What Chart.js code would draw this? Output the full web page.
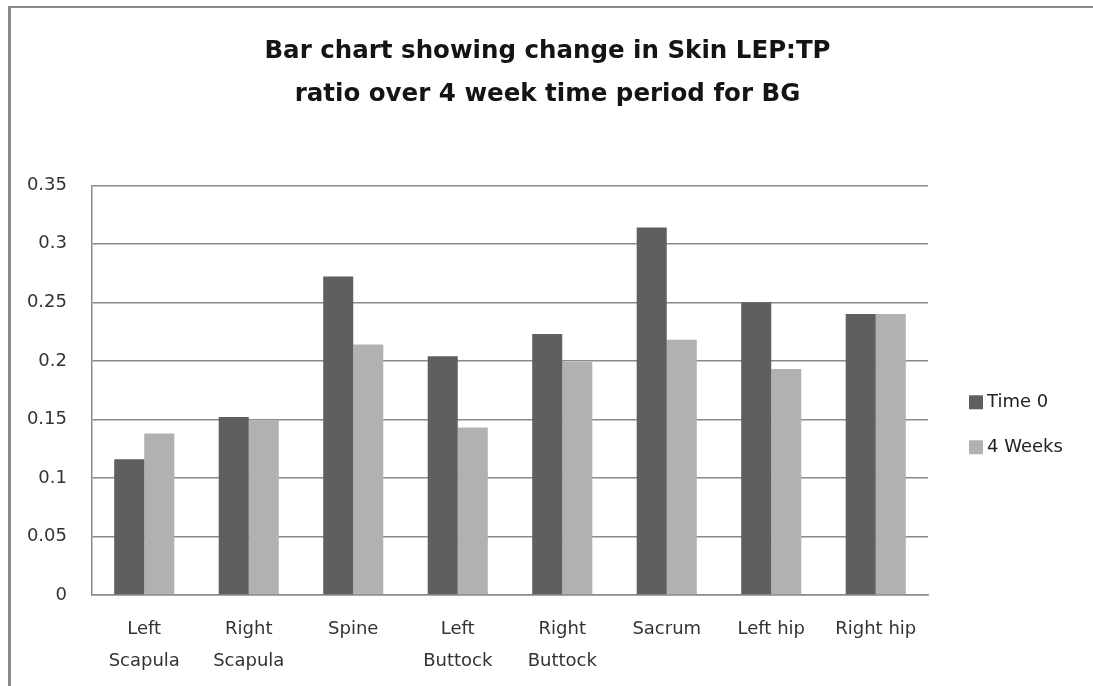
<!DOCTYPE html>
<html>
<head>
<meta charset="utf-8">
<title>Skin LEP:TP ratio</title>
<script src="https://cdn.jsdelivr.net/npm/chart.js@4.4.1/dist/chart.umd.min.js"></script>
<style>
  html, body { margin: 0; padding: 0; background: #ffffff; }
  #wrap { position: relative; width: 1093px; height: 686px; }
</style>
</head>
<body>
<div id="wrap"><canvas id="chart" width="1093" height="686"></canvas></div>
<script>
// Sites measured
const categories = [
  ['Left', 'Scapula'],
  ['Right', 'Scapula'],
  'Spine',
  ['Left', 'Buttock'],
  ['Right', 'Buttock'],
  'Sacrum',
  'Left hip',
  'Right hip'
];

// LEP:TP ratio at baseline and after four weeks
const time0 = [0.116, 0.152, 0.272, 0.204, 0.223, 0.314, 0.250, 0.240];
const weeks4 = [0.138, 0.149, 0.214, 0.143, 0.199, 0.218, 0.193, 0.240];

const seriesNames = ['Time 0', '4 Weeks'];
const yTickValues = [0, 0.05, 0.1, 0.15, 0.2, 0.25, 0.3, 0.35];
const yTickLabels = ['0', '0.05', '0.1', '0.15', '0.2', '0.25', '0.3', '0.35'];

const titleLines = [
  'Bar chart showing change in Skin LEP:TP',
  'ratio over 4 week time period for BG'
];

const axisFont = { family: '"DejaVu Sans", sans-serif', size: 18 };
const gridColor = '#8a8a8a';

// Outer frame of the chart object (left and top edges)
const framePlugin = {
  id: 'frame',
  beforeDraw(chart) {
    const ctx = chart.ctx;
    ctx.save();
    ctx.fillStyle = '#ffffff';
    ctx.fillRect(0, 0, chart.width, chart.height);
    ctx.strokeStyle = gridColor;
    ctx.lineWidth = 3;
    ctx.beginPath();
    ctx.moveTo(9.5, chart.height);
    ctx.lineTo(9.5, 7);
    ctx.stroke();
    ctx.lineWidth = 2;
    ctx.beginPath();
    ctx.moveTo(8, 7);
    ctx.lineTo(chart.width, 7);
    ctx.stroke();
    ctx.restore();
  }
};

// Legend to the right of the plot, built from the datasets
const sideLegend = {
  id: 'sideLegend',
  afterDraw(chart) {
    const ctx = chart.ctx;
    const area = chart.chartArea;
    const boxX = area.right + 41;
    const firstY = area.top + 217;
    const step = 45;
    ctx.save();
    ctx.font = '18px "DejaVu Sans", sans-serif';
    ctx.textBaseline = 'middle';
    ctx.textAlign = 'left';
    chart.data.datasets.forEach((ds, i) => {
      const y = firstY + i * step;
      ctx.fillStyle = ds.backgroundColor;
      ctx.fillRect(boxX, y - 7, 14, 14);
      ctx.fillStyle = '#222222';
      ctx.fillText(ds.label, boxX + 18, y);
    });
    ctx.restore();
  }
};

new Chart(document.getElementById('chart'), {
  type: 'bar',
  data: {
    labels: categories,
    datasets: [
      {
        label: seriesNames[0],
        data: time0,
        backgroundColor: '#5f5f5f',
        borderWidth: 0,
        categoryPercentage: 0.575,
        barPercentage: 1.0
      },
      {
        label: seriesNames[1],
        data: weeks4,
        backgroundColor: '#b1b1b1',
        borderWidth: 0,
        categoryPercentage: 0.575,
        barPercentage: 1.0
      }
    ]
  },
  options: {
    responsive: false,
    animation: false,
    layout: { padding: { left: 12, right: 10, top: 0, bottom: 0 } },
    plugins: {
      tooltip: { enabled: false },
      legend: { display: false },
      title: {
        display: true,
        text: titleLines,
        color: '#141414',
        font: { family: '"DejaVu Sans", sans-serif', size: 24.5, weight: 'bold', lineHeight: 1.72 },
        padding: { top: 31, bottom: 70 }
      }
    },
    scales: {
      x: {
        afterFit(axis) { axis.height = 91; },
        grid: { display: false, drawTicks: false },
        border: { display: true, color: gridColor, width: 1.5 },
        ticks: {
          color: '#333333',
          font: Object.assign({ lineHeight: 1.8 }, axisFont),
          padding: 18,
          maxRotation: 0,
          autoSkip: false
        }
      },
      y: {
        min: 0,
        max: 0.35,
        afterFit(axis) { axis.width = 80; },
        afterBuildTicks(axis) {
          axis.ticks = yTickValues.map(v => ({ value: v }));
        },
        grid: { color: gridColor, lineWidth: 1.5, drawTicks: false },
        border: { display: true, color: gridColor, width: 1.5 },
        ticks: {
          color: '#333333',
          font: axisFont,
          padding: 25,
          callback(value) {
            const i = yTickValues.findIndex(v => Math.abs(v - value) < 1e-9);
            return i >= 0 ? yTickLabels[i] : '';
          }
        }
      },
      // Empty right-hand column that holds the legend
      legendSpace: {
        type: 'linear',
        position: 'right',
        display: true,
        afterFit(axis) { axis.width = 155; },
        grid: { display: false, drawTicks: false },
        border: { display: false },
        ticks: { display: false }
      }
    }
  },
  plugins: [framePlugin, sideLegend]
});
</script>
</body>
</html>
